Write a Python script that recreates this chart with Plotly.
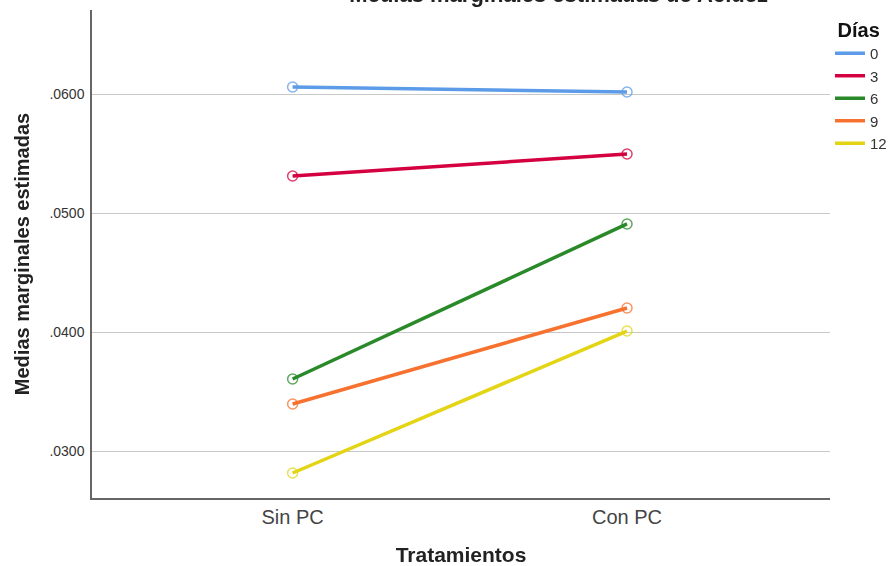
import plotly.graph_objects as go

tratamientos = ["Sin PC", "Con PC"]
dias = ["0", "3", "6", "9", "12"]
valores = {
    "0": [0.06059, 0.06017],
    "3": [0.05311, 0.05496],
    "6": [0.03605, 0.04908],
    "9": [0.03395, 0.04202],
    "12": [0.02815, 0.04008],
}
colores = {
    "0": "#5b9be8",
    "3": "#d4003f",
    "6": "#2a8a2a",
    "9": "#f7712f",
    "12": "#e3d515",
}
y_ticks = [0.03, 0.04, 0.05, 0.06]
y_ticklabels = [".0300", ".0400", ".0500", ".0600"]

fig = go.Figure()
for d in dias:
    fig.add_trace(go.Scatter(
        x=tratamientos, y=valores[d], name=d, mode="lines",
        line=dict(color=colores[d], width=3.5), legendgroup=d,
    ))
for d in dias:
    fig.add_trace(go.Scatter(
        x=tratamientos, y=valores[d], name=d, mode="markers", showlegend=False,
        legendgroup=d, opacity=0.75,
        marker=dict(symbol="circle-open", size=10, color=colores[d], line=dict(width=1.5)),
    ))

fig.update_layout(
    width=891, height=566,
    margin=dict(l=92, r=61, t=10, b=68, autoexpand=False),
    plot_bgcolor="white", paper_bgcolor="white",
    font=dict(family="Liberation Sans, Arial, sans-serif", color="#222"),
    title=dict(text="<b>Medias marginales estimadas de Acidez</b>", x=0.627, xanchor="center",
               y=0.9965, yanchor="bottom", yref="container", font=dict(size=22, color="#222")),
    legend=dict(title=dict(text="<b>&nbsp;Días</b>", font=dict(size=20, color="#111")),
                x=1.0, xanchor="left", y=0.998, yanchor="top",
                font=dict(size=15, color="#333"), tracegroupgap=0,
                itemwidth=30, bgcolor="rgba(0,0,0,0)"),
    xaxis=dict(type="category", range=[-0.6, 1.607], showgrid=False,
               showline=True, linecolor="#666", linewidth=1.5, ticks="",
               tickfont=dict(size=20, color="#444"),
               title=dict(text="<b>Tratamientos</b>", font=dict(size=21, color="#222"), standoff=24)),
    yaxis=dict(range=[0.02605, 0.06706], tickvals=y_ticks, ticktext=y_ticklabels,
               showgrid=True, gridcolor="#c8c8c8", gridwidth=1.2, zeroline=False,
               showline=True, linecolor="#666", linewidth=1.5, ticks="",
               ticklabelstandoff=3,
               tickfont=dict(size=14, color="#333"),
               title=dict(text="<b>Medias marginales estimadas</b>", font=dict(size=20, color="#222"), standoff=14)),
)

fig.write_html("out.html", config={"displayModeBar": False},
               post_script="document.body.style.margin='0';")
